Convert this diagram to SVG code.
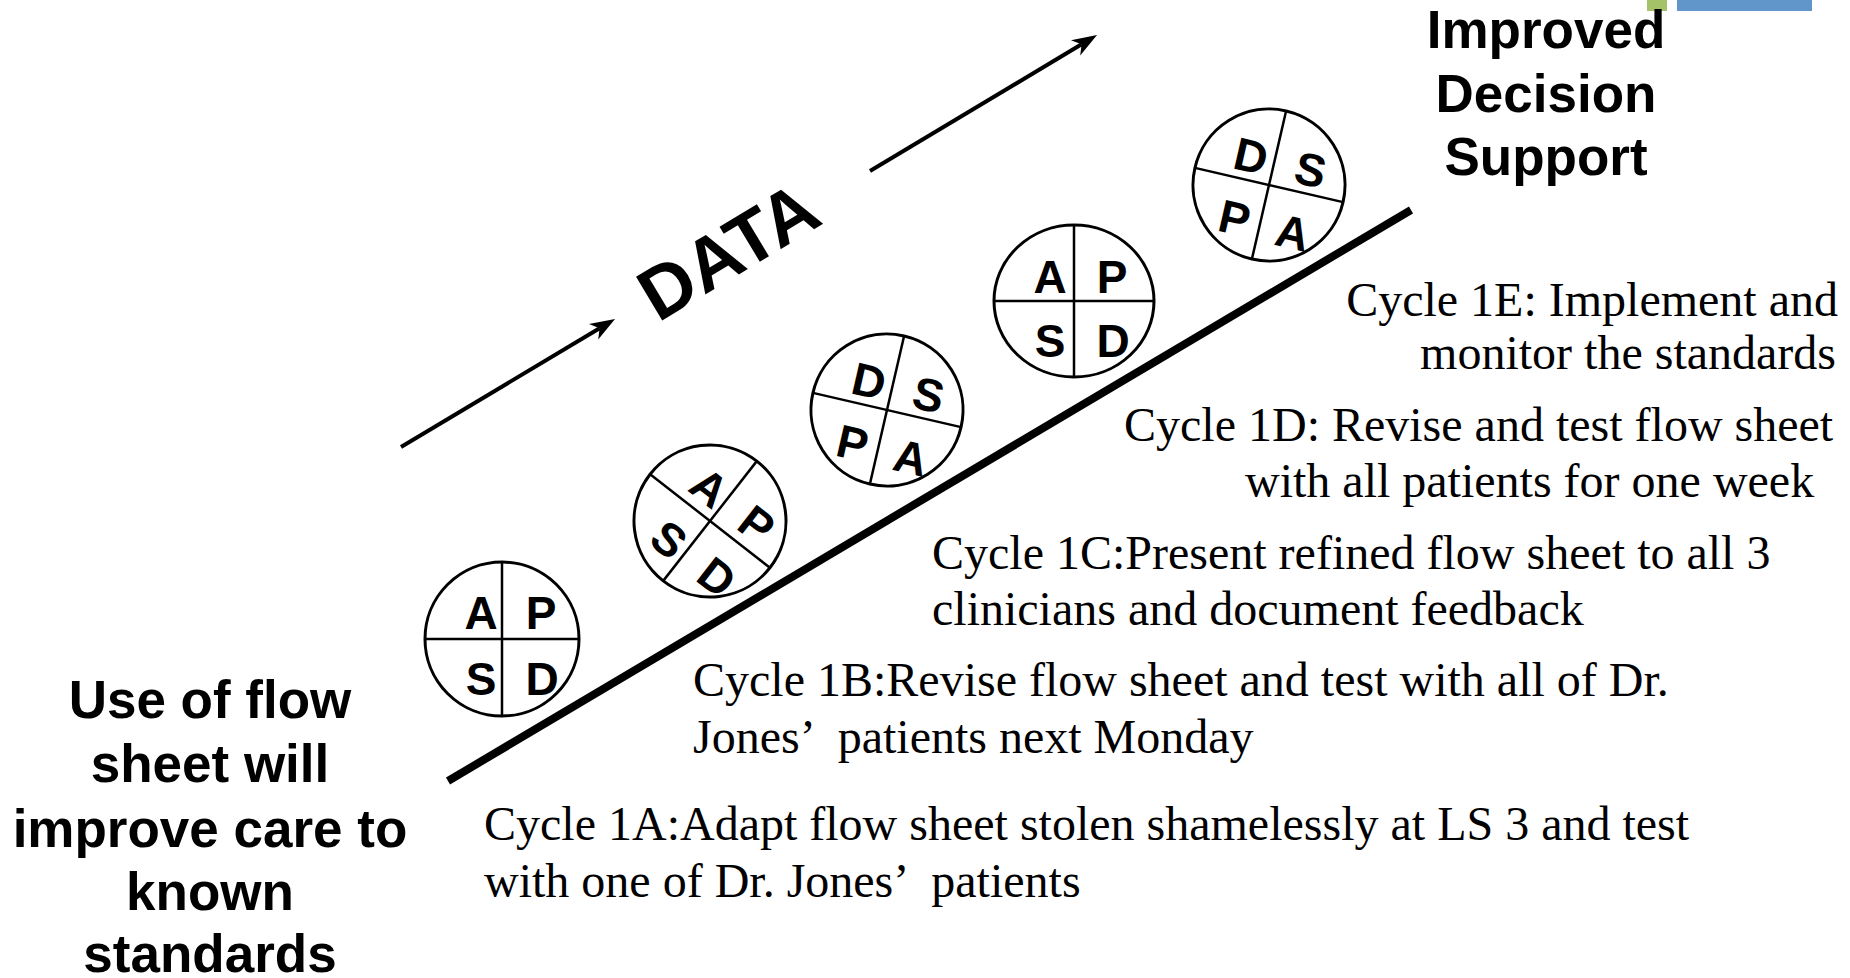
<svg xmlns="http://www.w3.org/2000/svg" width="1850" height="978" viewBox="0 0 1850 978">
<style>
.ring{fill:#fff;stroke:#000;stroke-width:3}
.div{stroke:#000;stroke-width:2.5}
.ltr{font-family:"Liberation Sans",Arial,sans-serif;font-weight:bold;font-size:46px;fill:#000;text-anchor:middle}
.big{font-family:"Liberation Sans",Arial,sans-serif;font-weight:bold;font-size:53px;fill:#000;text-anchor:middle}
.cyc{font-family:"Liberation Serif","Times New Roman",serif;font-size:48px;fill:#000}
.arr{stroke:#000;stroke-width:4;fill:none}
</style>
<defs>
<marker id="head" markerUnits="userSpaceOnUse" markerWidth="30" markerHeight="24" viewBox="0 -12 30 24" refX="7" refY="0" orient="auto">
<path d="M0,-9 L25,0 L0,9 L7,0 Z" fill="#000"/>
</marker>
</defs>
<rect width="1850" height="978" fill="#fff"/>
<rect x="1647" y="0" width="20" height="11" fill="#A4C267"/>
<rect x="1677" y="0" width="135" height="11" fill="#6096C9"/>

<g id="connectors">
<line x1="448" y1="781" x2="1411" y2="210" stroke="#000" stroke-width="8"/>
<line class="arr" x1="401" y1="447" x2="599.6" y2="328.2" marker-end="url(#head)"/>
<line class="arr" x1="870" y1="171" x2="1081.6" y2="44.3" marker-end="url(#head)"/>
</g>

<g id="data-label">
<text x="658" y="323" transform="rotate(-31 658 323)" font-family="Liberation Sans, Arial, sans-serif" font-weight="bold" font-size="74">DATA</text>
</g>

<g id="cycle-1a" transform="translate(502,639)">
<circle class="ring" r="77"/>
<line class="div" x1="0" y1="-77" x2="0" y2="77"/>
<line class="div" x1="-77" y1="0" x2="77" y2="0"/>
<text class="ltr" x="-21" y="-10">A</text>
<text class="ltr" x="39" y="-10">P</text>
<text class="ltr" x="-21" y="56">S</text>
<text class="ltr" x="40" y="56">D</text>
</g>

<g id="cycle-1b" transform="translate(710,521) rotate(38)">
<circle class="ring" r="76"/>
<line class="div" x1="0" y1="-76" x2="0" y2="76"/>
<line class="div" x1="-76" y1="0" x2="76" y2="0"/>
<text class="ltr" x="-21" y="-10">A</text>
<text class="ltr" x="39" y="-10">P</text>
<text class="ltr" x="-21" y="56">S</text>
<text class="ltr" x="40" y="56">D</text>
</g>

<g id="cycle-1c" transform="translate(887,410) rotate(13)">
<circle class="ring" r="76"/>
<line class="div" x1="0" y1="-76" x2="0" y2="76"/>
<line class="div" x1="-76" y1="0" x2="76" y2="0"/>
<text class="ltr" x="-24" y="-8">D</text>
<text class="ltr" x="37" y="-8">S</text>
<text class="ltr" x="-26" y="56">P</text>
<text class="ltr" x="34" y="57">A</text>
</g>

<g id="cycle-1d" transform="translate(1074,301)">
<ellipse class="ring" rx="80" ry="76"/>
<line class="div" x1="0" y1="-76" x2="0" y2="76"/>
<line class="div" x1="-80" y1="0" x2="80" y2="0"/>
<text class="ltr" x="-24" y="-8">A</text>
<text class="ltr" x="38" y="-8">P</text>
<text class="ltr" x="-24" y="56">S</text>
<text class="ltr" x="39" y="56">D</text>
</g>

<g id="cycle-1e" transform="translate(1269,185) rotate(13)">
<circle class="ring" r="76"/>
<line class="div" x1="0" y1="-76" x2="0" y2="76"/>
<line class="div" x1="-76" y1="0" x2="76" y2="0"/>
<text class="ltr" x="-24" y="-8">D</text>
<text class="ltr" x="37" y="-8">S</text>
<text class="ltr" x="-26" y="56">P</text>
<text class="ltr" x="34" y="57">A</text>
</g>

<g id="start-label">
<text class="big" x="210" y="718">Use of flow</text>
<text class="big" x="210" y="782">sheet will</text>
<text class="big" x="210" y="847">improve care to</text>
<text class="big" x="210" y="910">known</text>
<text class="big" x="210" y="972">standards</text>
</g>

<g id="goal-label">
<text class="big" x="1546" y="48">Improved</text>
<text class="big" x="1546" y="112">Decision</text>
<text class="big" x="1546" y="175">Support</text>
</g>

<g id="text-1e">
<text class="cyc" x="1838" y="316" text-anchor="end">Cycle 1E: Implement and</text>
<text class="cyc" x="1836" y="369" text-anchor="end">monitor the standards</text>
</g>
<g id="text-1d">
<text class="cyc" x="1124" y="441">Cycle 1D: Revise and test flow sheet</text>
<text class="cyc" x="1245" y="497">with all patients for one week</text>
</g>
<g id="text-1c">
<text class="cyc" x="932" y="569">Cycle 1C:Present refined flow sheet to all 3</text>
<text class="cyc" x="932" y="625">clinicians and document feedback</text>
</g>
<g id="text-1b">
<text class="cyc" x="693" y="696">Cycle 1B:Revise flow sheet and test with all of Dr.</text>
<text class="cyc" x="693" y="753">Jones’<tspan dx="22">patients next Monday</tspan></text>
</g>
<g id="text-1a">
<text class="cyc" x="484" y="840">Cycle 1A:Adapt flow sheet stolen shamelessly at LS 3 and test</text>
<text class="cyc" x="484" y="897">with one of Dr. Jones’<tspan dx="22">patients</tspan></text>
</g>
</svg>
